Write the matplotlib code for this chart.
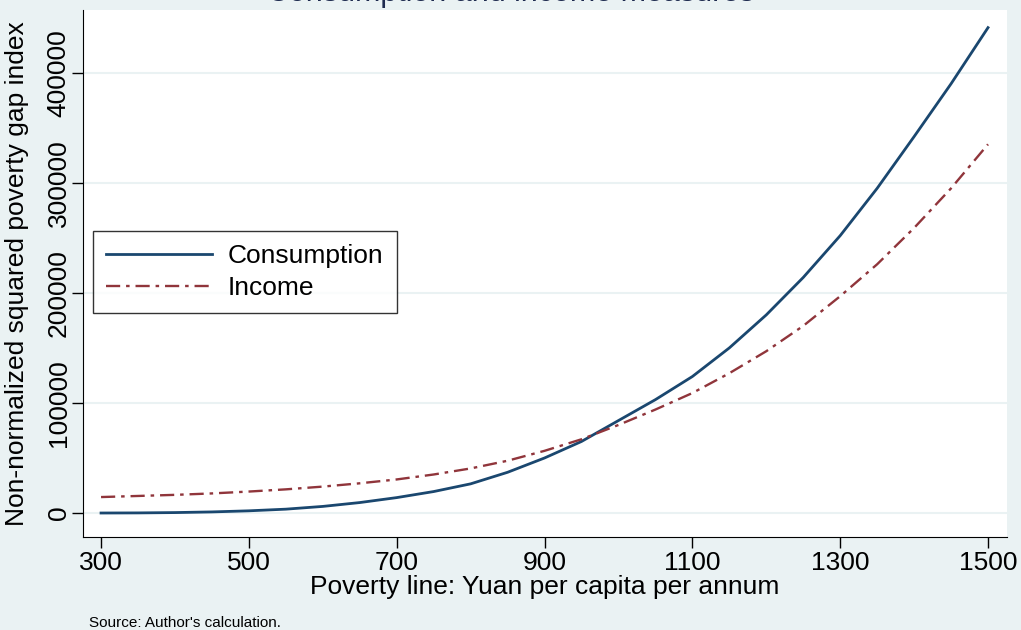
import numpy as np
import matplotlib.pyplot as plt

plt.rcParams['font.family'] = ['Liberation Sans', 'DejaVu Sans']

# poverty line (yuan per capita per annum)
povline = [300, 350, 400, 450, 500, 550, 600, 650, 700, 750, 800, 850, 900,
           950, 1000, 1050, 1100, 1150, 1200, 1250, 1300, 1350, 1400, 1450, 1500]
consumption = [0, 100, 400, 1000, 2000, 3500, 6000, 9500, 14000, 19500, 26500,
               37000, 50000, 65000, 84000, 103000, 124000, 150000, 180000,
               214000, 252000, 295000, 342000, 390000, 441000]
income = [14500, 15500, 16500, 17800, 19500, 21500, 24000, 27000, 30500, 35000,
          40500, 47500, 56500, 67000, 80000, 94000, 109000, 127000, 147000,
          170000, 197000, 226000, 259000, 295000, 335000]
xticks = [300, 500, 700, 900, 1100, 1300, 1500]
yticks = [0, 100000, 200000, 300000, 400000]

bg = '#eaf2f3'
fig = plt.figure(figsize=(10.21, 6.30), dpi=100, facecolor=bg)
ax = fig.add_axes([0.0813, 0.1476, 0.905, 0.8365])
ax.set_facecolor('white')

ax.plot(povline, consumption, color='#1a476f', lw=2, label='Consumption')
ax.plot(povline, income, color='#90353b', lw=1.7, dashes=(6, 2.5, 1.5, 2.5),
        label='Income')

ax.set_xlim(275.6, 1525.7)
ax.set_ylim(-21800, 457000)
ax.set_xticks(xticks)
ax.set_yticks(yticks)
ax.set_yticklabels([str(v) for v in yticks], rotation=90, va='center')
ax.tick_params(axis='both', direction='out', length=8, labelsize=19, width=1,
               pad=2)
ax.tick_params(axis='y', pad=1)
ax.grid(axis='y', color='#eaf2f3', lw=1.5)
ax.set_axisbelow(True)
for s in ['top', 'right']:
    ax.spines[s].set_visible(False)

ax.set_xlabel('Poverty line: Yuan per capita per annum', fontsize=19, labelpad=0)
ax.set_ylabel('Non-normalized squared poverty gap index', fontsize=19)
ax.yaxis.set_label_coords(-0.058, 0.5)

leg = ax.legend(loc='lower left', bbox_to_anchor=(0.011, 0.425), fontsize=19,
                frameon=True, fancybox=False, edgecolor='black', handlelength=4,
                borderaxespad=0, borderpad=0.5, handletextpad=0.6,
                labelspacing=0.3)
leg.get_frame().set_linewidth(1)

fig.text(0.5, 0.999, 'Consumption and income measures', ha='center',
         va='baseline', fontsize=22, color='#1e2b4f')
fig.text(0.087, 0.005, "Source: Author's calculation.", fontsize=11)

fig.savefig('out.png', dpi=100, facecolor=bg)
